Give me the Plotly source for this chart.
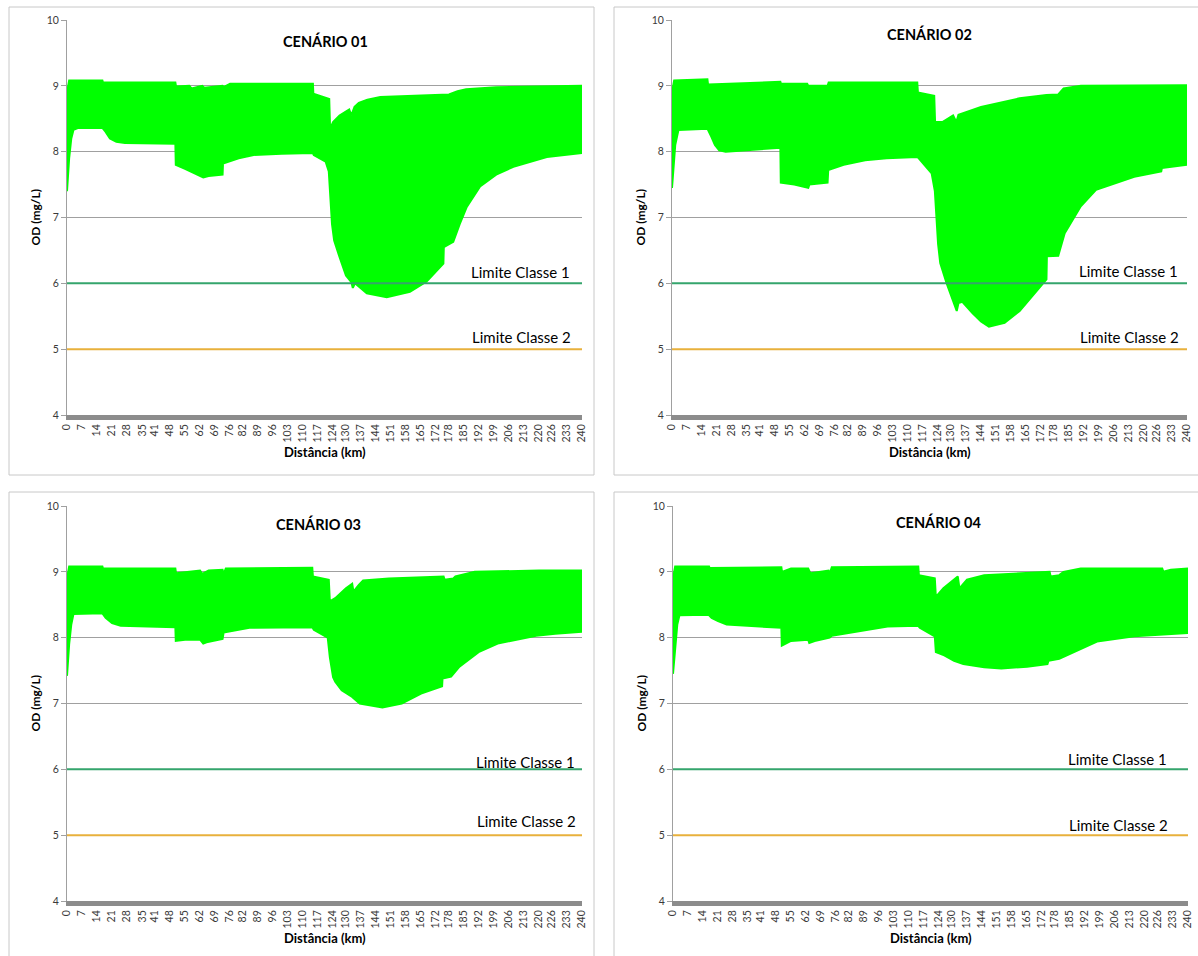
import plotly.graph_objects as go

W, H = 1198, 956

# ---------------- data ----------------
x_tick_vals = [0, 7, 14, 21, 28, 35, 41, 48, 55, 62, 69, 76, 82, 89, 96, 103, 110, 117,
               124, 130, 137, 144, 151, 158, 165, 172, 178, 185, 192, 199, 206, 213, 220,
               226, 233, 240]
y_tick_vals = [4, 5, 6, 7, 8, 9, 10]

titles = ["CENÁRIO 01", "CENÁRIO 02", "CENÁRIO 03", "CENÁRIO 04"]
limit_values = [6, 5]
limit_names = ["Limite Classe 1", "Limite Classe 2"]

# envelope of the simulated OD profiles (upper / lower), per scenario
c1_up_x = [0, 1, 16.5, 16.8, 50.5, 50.8, 57, 58, 63, 64, 72.5, 73, 76, 114.6, 114.8, 118, 122.2,
           122.6, 124, 127, 131.5, 132.5, 134, 136, 140, 146, 160, 175, 178, 182, 186, 200, 220, 240]
c1_up_y = [8.9, 9.08, 9.08, 9.05, 9.05, 8.99, 9.0, 8.96, 9.0, 8.97, 9.0, 8.98, 9.03, 9.03, 8.88, 8.85, 8.8,
           8.35, 8.45, 8.55, 8.64, 8.55, 8.68, 8.74, 8.79, 8.83, 8.85, 8.87, 8.87, 8.92, 8.95, 8.98, 8.99, 9.0]
c1_lo_x = [0, 1, 2, 3, 5, 16.5, 18, 20, 23, 27, 50.5, 50.7, 55, 60, 63.5, 66, 72.5, 72.7, 80, 87, 100,
           114.6, 115, 120.5, 122, 123.5, 124.5, 127, 130, 132.5, 133.2, 134.2, 139.7, 149, 159.8, 167.6,
           175.4, 175.6, 180, 183, 186.3, 192.5, 200, 208, 223.6, 240]
c1_lo_y = [7.4, 7.9, 8.2, 8.33, 8.36, 8.36, 8.3, 8.2, 8.15, 8.13, 8.12, 7.8, 7.74, 7.66, 7.61, 7.63, 7.65, 7.82,
           7.9, 7.95, 7.97, 7.98, 7.95, 7.85, 7.7, 6.9, 6.65, 6.4, 6.12, 6.02, 5.93, 6.0, 5.85, 5.79, 5.87, 6.03,
           6.3, 6.55, 6.63, 6.9, 7.16, 7.47, 7.65, 7.77, 7.92, 7.98]

c2_up_x = [0, 1, 16.5, 16.8, 50.5, 50.8, 63, 63.5, 72.5, 73, 114.3, 114.6, 122.2, 122.6, 126, 131, 132.5,
           133.5, 137, 144, 162, 174.5, 180, 182.5, 190.5, 228, 240]
c2_up_y = [8.9, 9.08, 9.1, 9.02, 9.06, 9.03, 9.03, 9.0, 9.0, 9.05, 9.05, 8.9, 8.85, 8.45, 8.45, 8.55, 8.45,
           8.56, 8.6, 8.68, 8.81, 8.86, 8.87, 8.96, 9.0, 9.01, 9.01]
c2_lo_x = [0, 1.5, 3, 16.5, 18, 20, 22, 25, 50.5, 50.7, 57, 63.5, 64, 72.5, 72.8, 80, 90, 100, 114.3, 115,
           121, 122.5, 124, 125, 128, 131, 132.7, 133.5, 135.3, 140, 144, 147.7, 155, 162, 169, 174.5, 174.7,
           180, 183, 190.5, 197.6, 215.4, 228, 228.3, 240]
c2_lo_y = [7.45, 8.1, 8.33, 8.35, 8.25, 8.1, 8.02, 8.0, 8.06, 7.53, 7.5, 7.45, 7.5, 7.53, 7.72, 7.8, 7.87, 7.9,
           7.92, 7.9, 7.67, 7.4, 6.6, 6.31, 6.0, 5.75, 5.58, 5.7, 5.72, 5.55, 5.42, 5.34, 5.4, 5.58, 5.85, 6.06,
           6.41, 6.42, 6.76, 7.17, 7.42, 7.62, 7.7, 7.75, 7.8]

c3_up_x = [0, 1, 16.5, 16.8, 50.5, 50.8, 62, 63, 66, 72.5, 73, 74, 114.3, 114.6, 122, 122.5, 125, 130,
           132.9, 133.5, 136, 138, 150, 175.5, 176, 180, 181, 190, 220, 240]
c3_up_y = [8.9, 9.08, 9.08, 9.05, 9.05, 8.98, 9.02, 8.97, 9.02, 9.03, 8.97, 9.05, 9.06, 8.93, 8.88, 8.55,
           8.6, 8.75, 8.82, 8.7, 8.8, 8.87, 8.9, 8.93, 8.88, 8.9, 8.93, 9.0, 9.02, 9.02]
c3_lo_x = [0, 1, 2, 3, 16.5, 18, 21, 25, 50.5, 50.7, 55, 62, 63.5, 65, 72.5, 73, 85, 100, 114.3, 115, 121.5,
           122.5, 124, 125, 128, 132.9, 136.4, 147, 156, 165, 174.8, 175, 179, 182.9, 191.8, 200.7, 218.6,
           227.5, 240]
c3_lo_y = [7.42, 7.9, 8.2, 8.36, 8.37, 8.3, 8.22, 8.18, 8.16, 7.95, 7.97, 7.97, 7.91, 7.93, 7.98, 8.08, 8.15,
           8.15, 8.16, 8.12, 8.0, 7.7, 7.4, 7.33, 7.2, 7.1, 7.0, 6.94, 7.0, 7.15, 7.26, 7.38, 7.41, 7.56, 7.78,
           7.91, 8.03, 8.06, 8.09]

c4_up_x = [0, 1, 16.8, 17, 50.5, 50.8, 55, 63, 64, 72.5, 73, 74, 114.3, 114.6, 122, 122.5, 126, 131, 132.7,
           133.5, 137, 145, 175.5, 176, 180, 182, 190, 228, 228.5, 232, 240]
c4_up_y = [8.9, 9.08, 9.08, 9.06, 9.07, 9.0, 9.05, 9.05, 8.98, 9.02, 8.97, 9.07, 9.08, 8.95, 8.9, 8.62, 8.75,
           8.88, 8.93, 8.75, 8.88, 8.95, 9.0, 8.93, 8.95, 9.0, 9.05, 9.05, 9.0, 9.03, 9.05]
c4_lo_x = [0, 1, 2, 3, 16.5, 18, 21, 25, 50.5, 50.7, 55, 63, 63.5, 66, 73, 74, 90, 100, 114.3, 115, 122,
           122.5, 126.4, 131, 135.3, 145, 153, 165, 174.5, 175, 180, 188.7, 197.6, 215, 228, 240]
c4_lo_y = [7.45, 7.9, 8.2, 8.34, 8.35, 8.3, 8.25, 8.2, 8.15, 7.88, 7.95, 7.97, 7.92, 7.95, 8.0, 8.03, 8.12,
           8.17, 8.18, 8.15, 8.02, 7.78, 7.73, 7.65, 7.6, 7.55, 7.53, 7.56, 7.6, 7.65, 7.68, 7.81, 7.94, 8.02,
           8.05, 8.07]

envelopes = [
    (c1_lo_x, c1_lo_y, c1_up_x, c1_up_y),
    (c2_lo_x, c2_lo_y, c2_up_x, c2_up_y),
    (c3_lo_x, c3_lo_y, c3_up_x, c3_up_y),
    (c4_lo_x, c4_lo_y, c4_up_x, c4_up_y),
]

# ---------------- layout geometry (window pixels) ----------------
plot_boxes = [  # x0, x1, ytop, ybottom
    (67, 582, 20, 415),
    (672, 1187, 20, 415),
    (67, 582, 506, 901),
    (673, 1188, 506, 901),
]
panel_boxes = [
    (9, 594, 7, 475),
    (614, 1215, 7, 475),
    (9, 594, 492, 975),
    (614, 1215, 492, 975),
]
title_pos = [(325, 41), (929, 34), (318, 524), (938, 522)]
lim1_pos = [(572, 272), (1180, 271), (577, 762), (1169, 759)]
lim2_pos = [(573, 337), (1181, 337), (578, 821), (1170, 825)]

GREEN = "#00FF00"
LIM_COLORS = ["#35A56C", "#E8B13C"]
FONT = "Lato"
TICK = "#3A3A3A"


def px(x):
    return x / W


def py(y):
    return 1 - y / H


fig = go.Figure()
layout = dict(
    template="none",
    width=W, height=H, margin=dict(l=0, r=0, t=0, b=0, autoexpand=False),
    paper_bgcolor="white", plot_bgcolor="white", showlegend=False,
    font=dict(family=FONT, color=TICK),
)
annotations = []
shapes = []

for i in range(4):
    n = "" if i == 0 else str(i + 1)
    xa, ya = "x" + n, "y" + n
    x0, x1, yt, yb = plot_boxes[i]
    layout["xaxis" + n] = dict(
        domain=[px(x0), px(x1)], range=[0, 240], anchor=ya, automargin=False,
        tickmode="array", tickvals=x_tick_vals, ticktext=[str(v) for v in x_tick_vals],
        tickangle=-90, tickfont=dict(size=10.5, color=TICK, family=FONT),
        showgrid=False, zeroline=False, showline=True, linecolor="#8C8C8C", linewidth=5,
        ticks="", fixedrange=True,
    )
    layout["yaxis" + n] = dict(
        domain=[py(yb), py(yt)], range=[4, 10], anchor=xa, automargin=False,
        tickmode="array", tickvals=y_tick_vals,
        tickfont=dict(size=10.5, color=TICK, family=FONT),
        showgrid=True, gridcolor="#A0A0A0", gridwidth=1, zeroline=False,
        showline=True, linecolor="#A0A0A0", linewidth=1,
        ticks="outside", ticklen=5, tickcolor="#A0A0A0", fixedrange=True,
    )

    lo_x, lo_y, up_x, up_y = envelopes[i]
    fig.add_trace(go.Scatter(x=lo_x, y=lo_y, mode="lines", xaxis=xa, yaxis=ya,
                             line=dict(color=GREEN, width=2), hoverinfo="skip"))
    fig.add_trace(go.Scatter(x=up_x, y=up_y, mode="lines", xaxis=xa, yaxis=ya,
                             line=dict(color=GREEN, width=2), fill="tonexty",
                             fillcolor=GREEN, hoverinfo="skip"))
    for v, c in zip(limit_values, LIM_COLORS):
        fig.add_trace(go.Scatter(x=[0, 240], y=[v, v], mode="lines", xaxis=xa, yaxis=ya,
                                 line=dict(color=c, width=2), hoverinfo="skip"))

    bx0, bx1, by0, by1 = panel_boxes[i]
    shapes.append(dict(type="rect", xref="paper", yref="paper",
                       x0=px(bx0), x1=px(bx1), y0=py(by1), y1=py(by0),
                       line=dict(color="#C8C8C8", width=1), layer="below"))

    tx, ty = title_pos[i]
    annotations.append(dict(text="<b>%s</b>" % titles[i], x=px(tx), y=py(ty), xref="paper", yref="paper",
                            showarrow=False, font=dict(size=14.5, color="black", family=FONT),
                            xanchor="center", yanchor="middle"))
    annotations.append(dict(text="<b>OD (mg/L)</b>", x=px(x0 - 32), y=py((yt + yb) / 2),
                            xref="paper", yref="paper", textangle=-90, showarrow=False,
                            font=dict(size=12, color="black", family=FONT),
                            xanchor="center", yanchor="middle"))
    annotations.append(dict(text="<b>Distância (km)</b>", x=px((x0 + x1) / 2), y=py(yb + 37),
                            xref="paper", yref="paper", showarrow=False,
                            font=dict(size=13, color="black", family=FONT),
                            xanchor="center", yanchor="middle"))
    for (lx, ly), name in zip([lim1_pos[i], lim2_pos[i]], limit_names):
        annotations.append(dict(text=name, x=px(lx), y=py(ly), xref="paper", yref="paper",
                                showarrow=False, font=dict(size=15, color="black", family=FONT),
                                xanchor="right", yanchor="middle"))

layout["annotations"] = annotations
layout["shapes"] = shapes
fig.update_layout(**layout)
fig.write_html(
    "out.html",
    config={"displayModeBar": False},
    post_script="document.body.style.margin='0';document.body.style.overflow='hidden';",
)
